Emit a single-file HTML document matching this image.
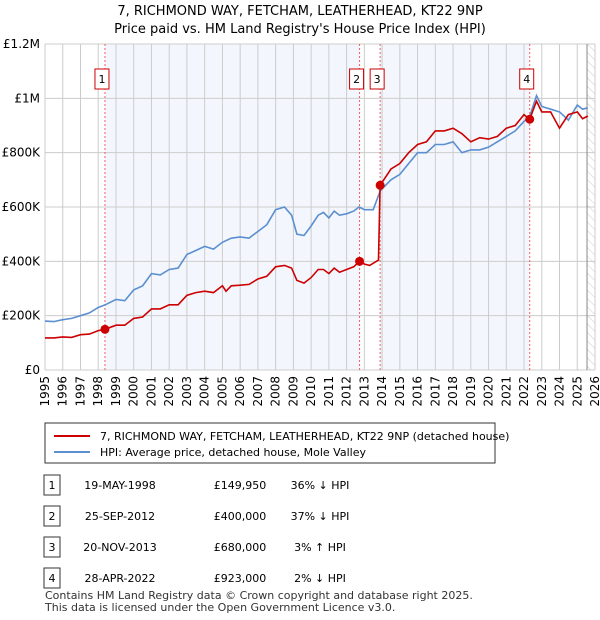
<!DOCTYPE html>
<html><head><meta charset="utf-8"><style>
body{margin:0;background:#fff;font-family:"Liberation Sans","DejaVu Sans",sans-serif;}
#wrap{position:relative;width:600px;height:620px;overflow:hidden}
svg text{font-family:"DejaVu Sans","Liberation Sans",sans-serif}
</style></head><body><div id="wrap">
<svg id="s" width="600" height="620">
<text x="300" y="15" text-anchor="middle" font-size="13">7, RICHMOND WAY, FETCHAM, LEATHERHEAD, KT22 9NP</text>
<text x="300" y="33" text-anchor="middle" font-size="13">Price paid vs. HM Land Registry's House Price Index (HPI)</text>
<g id="g"></g>
<rect x="45" y="423" width="450" height="40" fill="#fff" stroke="#333"/>
<line x1="54" y1="436" x2="90" y2="436" stroke="#cc0000" stroke-width="2"/>
<text x="100" y="440" font-size="11">7, RICHMOND WAY, FETCHAM, LEATHERHEAD, KT22 9NP (detached house)</text>
<line x1="54" y1="452" x2="90" y2="452" stroke="#5b8fd0" stroke-width="2"/>
<text x="100" y="456" font-size="11">HPI: Average price, detached house, Mole Valley</text>
<g id="tbl" font-size="11"></g>
<text x="45" y="599" font-size="11" fill="#333">Contains HM Land Registry data © Crown copyright and database right 2025.</text>
<text x="45" y="611" font-size="11" fill="#333">This data is licensed under the Open Government Licence v3.0.</text>
</svg></div>
<script>
const hpiDates=[1995,1995.5,1996,1996.5,1997,1997.5,1998,1998.4,1999,1999.5,2000,2000.5,2001,2001.5,2002,2002.5,2003,2003.5,2004,2004.5,2005,2005.5,2006,2006.5,2007,2007.5,2008,2008.5,2008.9,2009.2,2009.6,2010,2010.4,2010.7,2011,2011.3,2011.6,2012,2012.4,2012.7,2013,2013.5,2013.9,2014.5,2015,2015.5,2016,2016.5,2017,2017.5,2018,2018.5,2019,2019.5,2020,2020.5,2021,2021.5,2022,2022.3,2022.7,2023,2023.5,2024,2024.5,2025,2025.3,2025.6];
const hpiVals=[180,178,185,190,200,210,230,240,260,255,295,310,355,350,370,375,425,440,455,445,470,485,490,485,510,535,590,600,570,500,495,530,570,580,560,585,570,575,585,600,590,590,660,700,720,760,800,800,830,830,840,800,810,810,820,840,860,880,915,930,1010,970,960,950,920,975,960,965];
const priceDates=[1995,1995.5,1996,1996.5,1997,1997.5,1998,1998.38,1999,1999.5,2000,2000.5,2001,2001.5,2002,2002.5,2003,2003.5,2004,2004.5,2005,2005.2,2005.5,2006,2006.5,2007,2007.5,2008,2008.5,2008.9,2009.2,2009.6,2010,2010.4,2010.7,2011,2011.3,2011.6,2012,2012.4,2012.73,2013,2013.3,2013.8,2013.89,2014.5,2015,2015.5,2016,2016.5,2017,2017.5,2018,2018.5,2019,2019.5,2020,2020.5,2021,2021.5,2022,2022.32,2022.7,2023,2023.5,2024,2024.5,2025,2025.3,2025.6];
const priceVals=[118,118,122,120,130,132,145,150,165,165,190,195,225,225,240,240,275,285,290,285,310,290,310,312,315,335,345,380,385,375,330,320,340,370,370,355,375,360,370,380,400,390,385,405,680,740,760,800,830,840,880,880,890,870,840,855,850,860,890,900,940,923,990,950,950,890,940,950,925,935];
const sales=[{n:"1",d:1998.38,v:149950,date:"19-MAY-1998",price:"£149,950",rel:"36% ↓ HPI"},{n:"2",d:2012.73,v:400000,date:"25-SEP-2012",price:"£400,000",rel:"37% ↓ HPI"},{n:"3",d:2013.89,v:680000,date:"20-NOV-2013",price:"£680,000",rel:"3% ↑ HPI"},{n:"4",d:2022.32,v:923000,date:"28-APR-2022",price:"£923,000",rel:"2% ↓ HPI"}];
const yTicks=[0,200000,400000,600000,800000,1000000,1200000];
const yLabels=["£0","£200K","£400K","£600K","£800K","£1M","£1.2M"];
const L=45,R=595,T=44,B=370,x0=1995,x1=2026;
const X=d=>L+(d-x0)/(x1-x0)*(R-L), Y=v=>B-v/1200000*(B-T);
const g=document.getElementById('g'),NS='http://www.w3.org/2000/svg';
function mk(t,a,p){const e=document.createElementNS(NS,t);for(const k in a)e.setAttribute(k,a[k]);(p||g).appendChild(e);return e;}
let b1=mk('rect',{x:X(sales[0].d),y:T,width:X(sales[1].d)-X(sales[0].d),height:B-T,fill:'#eef3fc',opacity:0.7});


let b2=mk('rect',{x:X(sales[2].d),y:T,width:X(sales[3].d)-X(sales[2].d),height:B-T,fill:'#eef3fc',opacity:0.7});


const defs=mk('defs',{});
const pat=mk('pattern',{id:'h',width:6,height:6,patternUnits:'userSpaceOnUse',patternTransform:'rotate(-45)'},defs);
mk('line',{x1:0,y1:0,x2:0,y2:6,stroke:'#ccc','stroke-width':1},pat);
let hx=X(2025.55);
let hr=mk('rect',{x:hx,y:T,width:R-hx,height:B-T,fill:'url(#h)'});


for(let yr=x0;yr<=x1;yr++){const gx=X(yr);
 let l=mk('line',{x1:gx,y1:T,x2:gx,y2:B,stroke:'#ccc'});
 
 
 let t=mk('text',{x:0,y:0,'font-size':12,'text-anchor':'end',transform:`translate(${gx+4},${B+6}) rotate(-90)`});t.textContent=yr;
 
 }
yTicks.forEach((v,i)=>{let l=mk('line',{x1:L,y1:Y(v),x2:R,y2:Y(v),stroke:'#ccc'});
 
 
 let t=mk('text',{x:L-5,y:Y(v)+4,'font-size':12,'text-anchor':'end'});t.textContent=yLabels[i];
 
 });
let vl=mk('line',{x1:hx,y1:T,x2:hx,y2:B,stroke:'#888'});


sales.forEach((s,i)=>{const sx=X(s.d);
 let l=mk('line',{x1:sx,y1:T,x2:sx,y2:B,stroke:'#f06060','stroke-dasharray':'2,2'});
 
 
 const bx=sx-10;
 let r=mk('rect',{x:bx,y:69,width:14,height:20,fill:'#fff',stroke:'#cc0000'});
 
 
 let t=mk('text',{x:bx+7,y:83,'font-size':11,'text-anchor':'middle'});t.textContent=s.n;
 
 });
const pts=(ds,vs)=>ds.map((d,i)=>X(d).toFixed(1)+','+Y(vs[i]*1000).toFixed(1)).join(' ');
let hl=mk('polyline',{points:pts(hpiDates,hpiVals),fill:'none',stroke:'#5b8fd0','stroke-width':1.6});


let pl=mk('polyline',{points:pts(priceDates,priceVals),fill:'none',stroke:'#cc0000','stroke-width':1.6});


sales.forEach(s=>{let c=mk('circle',{cx:X(s.d),cy:Y(s.v),r:4.5,fill:'#cc0000'});
 
 });
const tb=document.getElementById('tbl');
sales.forEach((s,i)=>{const y=485+i*31;
 let r=mk('rect',{x:44,y:y-10,width:16,height:20,fill:'#fff',stroke:'#333'},tb);
 
 
 const cells=[[52,s.n,'middle'],[120,s.date,'middle'],[240,s.price,'middle'],[320,s.rel,'middle']];
 cells.forEach(c=>{let t=mk('text',{x:c[0],y:y+4,'text-anchor':c[2]},tb);t.textContent=c[1];
  
  });});
</script></body></html>
